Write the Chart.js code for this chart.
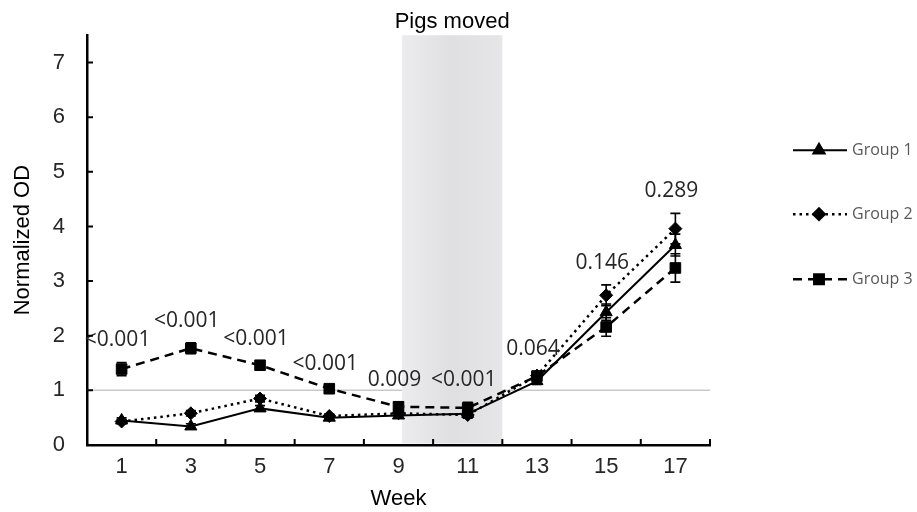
<!DOCTYPE html>
<html>
<head>
<meta charset="utf-8">
<script src="https://cdn.jsdelivr.net/npm/chart.js@4.4.1/dist/chart.umd.min.js"></script>
<style>
  html, body { margin: 0; padding: 0; background: #ffffff; }
  #wrap { width: 917px; height: 512px; position: relative; }
</style>
</head>
<body>
<div id="wrap"><canvas id="c" width="917" height="512"></canvas></div>
<script>
// ---- data ----
const weeks = ['1', '3', '5', '7', '9', '11', '13', '15', '17'];
const group1 = [0.45, 0.34, 0.67, 0.50, 0.54, 0.57, 1.17, 2.43, 3.66];
const group1Err = [0.05, 0.05, 0.05, 0.04, 0.05, 0.05, 0.06, 0.15, 0.20];
const group2 = [0.43, 0.58, 0.85, 0.53, 0.58, 0.55, 1.27, 2.74, 3.96];
const group2Err = [0.04, 0.05, 0.06, 0.04, 0.05, 0.06, 0.08, 0.19, 0.28];
const group3 = [1.39, 1.77, 1.46, 1.03, 0.70, 0.68, 1.26, 2.16, 3.24];
const group3Err = [0.12, 0.10, 0.07, 0.05, 0.09, 0.10, 0.08, 0.17, 0.26];
const pValues = ['<0.001', '<0.001', '<0.001', '<0.001', '0.009', '<0.001', '0.064', '0.146', '0.289'];
const yTickValues = [0, 1, 2, 3, 4, 5, 6, 7];
const yMax = 7.5;
const referenceLine = 1;
const shadeWeeks = [9.1, 12];
const shadeLabel = 'Pigs moved';
const seriesNames = ['Group 1', 'Group 2', 'Group 3'];

const weekToIndex = w => (w - 1) / 2;

const datasets = [
  { label: seriesNames[0], data: group1, err: group1Err, borderColor: '#000', backgroundColor: '#000',
    borderWidth: 2, borderDash: [], pointStyle: 'triangle', pointRadius: 7 },
  { label: seriesNames[1], data: group2, err: group2Err, borderColor: '#000', backgroundColor: '#000',
    borderWidth: 2.5, borderDash: [2.5, 4], pointStyle: 'rectRot', pointRadius: 6.5 },
  { label: seriesNames[2], data: group3, err: group3Err, borderColor: '#000', backgroundColor: '#000',
    borderWidth: 2.5, borderDash: [9, 6], pointStyle: 'rect', pointRadius: 7.5 }
].map(d => Object.assign({ tension: 0, fill: false, pointBorderWidth: 1, pointHoverRadius: 7 }, d));

const decor = {
  id: 'decor',
  beforeDatasetsDraw(chart) {
    const { ctx, chartArea: a, scales: { x, y } } = chart;
    ctx.save();
    // reference line at y = 1
    const yr = y.getPixelForValue(referenceLine);
    ctx.strokeStyle = '#c9c9c9';
    ctx.lineWidth = 1.5;
    ctx.beginPath(); ctx.moveTo(a.left, yr); ctx.lineTo(a.right, yr); ctx.stroke();
    // shaded period
    const x0 = x.getPixelForValue(weekToIndex(shadeWeeks[0]));
    const x1 = x.getPixelForValue(weekToIndex(shadeWeeks[1]));
    const g = ctx.createLinearGradient(x0, 0, x1, 0);
    g.addColorStop(0, '#ececee');
    g.addColorStop(0.2, '#e7e7e9');
    g.addColorStop(0.5, '#dfdfe1');
    g.addColorStop(1, '#e6e6e8');
    ctx.fillStyle = g;
    ctx.fillRect(x0, a.top, x1 - x0, a.bottom - a.top - 1.5);
    ctx.restore();
  },
  afterDatasetsDraw(chart) {
    const { ctx, chartArea: a, scales: { x, y } } = chart;
    ctx.save();
    // error bars
    ctx.strokeStyle = '#000';
    ctx.lineWidth = 1.6;
    chart.data.datasets.forEach(ds => {
      ds.data.forEach((v, i) => {
        const px = x.getPixelForValue(i);
        const yt = y.getPixelForValue(v + ds.err[i]);
        const yb = y.getPixelForValue(v - ds.err[i]);
        ctx.beginPath();
        ctx.moveTo(px, yt); ctx.lineTo(px, yb);
        ctx.moveTo(px - 5, yt); ctx.lineTo(px + 5, yt);
        ctx.moveTo(px - 5, yb); ctx.lineTo(px + 5, yb);
        ctx.stroke();
      });
    });
    // p-value labels
    ctx.fillStyle = '#262626';
    ctx.font = '21px "Open Sans", "Noto Sans", sans-serif';
    ctx.textAlign = 'center';
    ctx.textBaseline = 'middle';
    pValues.forEach((t, i) => {
      let top = -Infinity;
      chart.data.datasets.forEach(ds => { top = Math.max(top, ds.data[i] + ds.err[i]); });
      ctx.fillText(t, x.getPixelForValue(i) - 4, y.getPixelForValue(top) - 22);
    });
    // shade label
    const x0 = x.getPixelForValue(weekToIndex(shadeWeeks[0]));
    const x1 = x.getPixelForValue(weekToIndex(shadeWeeks[1]));
    ctx.fillStyle = '#000';
    ctx.font = '22px "Liberation Sans", Arial, sans-serif';
    ctx.fillText(shadeLabel, (x0 + x1) / 2, a.top - 13);
    // inside tick marks
    ctx.strokeStyle = '#000';
    ctx.lineWidth = 2;
    ctx.beginPath();
    yTickValues.forEach(v => {
      if (v === 0) return;
      const py = y.getPixelForValue(v);
      ctx.moveTo(a.left, py); ctx.lineTo(a.left + 6, py);
    });
    for (let i = 0; i < weeks.length; i++) {
      const px = x.getPixelForValue(i + 0.5);
      ctx.moveTo(px, a.bottom); ctx.lineTo(px, a.bottom - 6);
    }
    ctx.stroke();
    // legend
    const lx0 = a.right + 83, lx1 = a.right + 137, lmid = a.right + 109;
    const ly = [a.top + 115, a.top + 179, a.top + 244];
    chart.data.datasets.forEach((ds, k) => {
      const yy = ly[k];
      ctx.save();
      ctx.strokeStyle = '#000';
      ctx.lineWidth = ds.borderWidth;
      ctx.setLineDash(ds.borderDash);
      ctx.beginPath(); ctx.moveTo(lx0, yy); ctx.lineTo(lx1, yy); ctx.stroke();
      ctx.restore();
      ctx.fillStyle = '#000';
      Chart.helpers.drawPoint(ctx, { pointStyle: ds.pointStyle, radius: ds.pointRadius - 0.5, rotation: 0, borderWidth: 1 }, lmid, yy);
      ctx.fill();
      ctx.fillStyle = '#595959';
      ctx.font = '16px "Open Sans", "Noto Sans", sans-serif';
      ctx.textAlign = 'left';
      ctx.fillText(ds.label, lx1 + 5, yy);
    });
    ctx.restore();
  }
};

new Chart(document.getElementById('c'), {
  type: 'line',
  data: { labels: weeks, datasets },
  plugins: [decor],
  options: {
    responsive: false,
    animation: false,
    devicePixelRatio: 1,
    layout: { padding: { top: 29, right: 207, left: 0, bottom: 0 } },
    plugins: { legend: { display: false }, tooltip: { enabled: false } },
    scales: {
      x: {
        type: 'category',
        offset: true,
        grid: { display: false, drawTicks: false, offset: true },
        border: { display: true, color: '#000', width: 2.5 },
        ticks: { color: '#262626', font: { size: 22, family: '"Liberation Sans", Arial, sans-serif' }, padding: 9, maxRotation: 0 },
        title: { display: true, text: 'Week', color: '#000', font: { size: 22, family: '"Liberation Sans", Arial, sans-serif' }, padding: { top: 0, bottom: 0 } },
        afterFit: s => { s.height = 67; }
      },
      y: {
        min: 0,
        max: yMax,
        grid: { display: false, drawTicks: false },
        border: { display: true, color: '#000', width: 2.5 },
        afterBuildTicks: s => { s.ticks = yTickValues.map(v => ({ value: v })); },
        ticks: { color: '#262626', font: { size: 22, family: '"Liberation Sans", Arial, sans-serif' }, padding: 22 },
        title: { display: true, text: 'Normalized OD', color: '#000', font: { size: 22, family: '"Liberation Sans", Arial, sans-serif' }, padding: { top: 10, bottom: 0 } },
        afterFit: s => { s.width = 87; }
      }
    }
  }
});
</script>
</body>
</html>
